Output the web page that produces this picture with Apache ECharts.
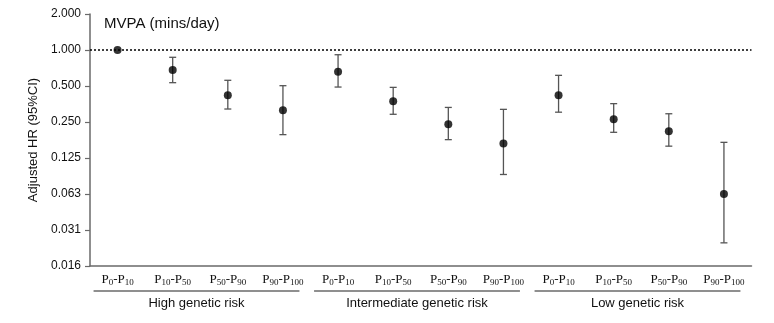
<!DOCTYPE html>
<html>
<head>
<meta charset="utf-8">
<script src="https://cdn.jsdelivr.net/npm/echarts@6/dist/echarts.min.js"></script>
<style>
  html, body { margin: 0; padding: 0; background: #fff; }
  #chart { width: 774px; height: 323px; }
</style>
</head>
<body>
<div id="chart"></div>
<script>
// Percentile bands of MVPA within each genetic-risk group
const categories = [
  'P0-P10', 'P10-P50', 'P50-P90', 'P90-P100',
  'P0-P10', 'P10-P50', 'P50-P90', 'P90-P100',
  'P0-P10', 'P10-P50', 'P50-P90', 'P90-P100'
];
const groups = ['High genetic risk', 'Intermediate genetic risk', 'Low genetic risk'];
const groupSize = 4;

// Adjusted hazard ratios and 95% CI bounds (reference band has no interval)
const hr    = [1.000, 0.680, 0.418, 0.313, 0.659, 0.372, 0.239, 0.165, 0.418, 0.263, 0.209, 0.0625];
const lower = [null,  0.533, 0.321, 0.196, 0.490, 0.290, 0.178, 0.091, 0.302, 0.205, 0.157, 0.0244];
const upper = [null,  0.869, 0.558, 0.503, 0.913, 0.487, 0.331, 0.319, 0.614, 0.356, 0.293, 0.169];

// Tick labels for the log2 axis, from 2^-6 up to 2^1
const yTickLabels = ['0.016', '0.031', '0.063', '0.125', '0.250', '0.500', '1.000', '2.000'];
const referenceHR = 1;

const SANS = 'Arial, "Liberation Sans", Helvetica, sans-serif';
const SERIF = '"Times New Roman", "Liberation Serif", serif';
const AXIS_COLOR = '#6a6a6a';

function percentileLabel(name) {
  const m = name.match(/^P(\d+)-P(\d+)$/);
  return '{p|P}{s|' + m[1] + '}{p|-P}{s|' + m[2] + '}';
}

const ciData = [];
hr.forEach((v, i) => { if (lower[i] != null) ciData.push([i, lower[i], upper[i]]); });

const chart = echarts.init(document.getElementById('chart'), null, { renderer: 'canvas' });

chart.setOption({
  animation: false,
  backgroundColor: '#fff',
  title: {
    text: 'MVPA (mins/day)',
    left: 99, top: 11,
    textStyle: { fontFamily: SANS, fontSize: 15, fontWeight: 'normal', color: '#111' }
  },
  grid: { left: 90, right: 22.5, top: 14, bottom: 57, containLabel: false },
  xAxis: {
    type: 'category',
    data: categories,
    axisLine: { lineStyle: { color: AXIS_COLOR, width: 1.5 } },
    axisTick: { alignWithLabel: true, length: 4, lineStyle: { color: AXIS_COLOR, width: 1.2 } },
    axisLabel: {
      margin: 6,
      interval: 0,
      formatter: (name) => percentileLabel(name),
      rich: {
        p: { fontFamily: SERIF, fontSize: 13, color: '#111' },
        // subscript: top padding pushes the digits below the baseline
        s: { fontFamily: SERIF, fontSize: 9, color: '#111', padding: [6, 0, 0, 0] }
      }
    },
    splitLine: { show: false }
  },
  yAxis: {
    type: 'log',
    logBase: 2,
    min: 1 / 64,
    max: 2,
    interval: 1,
    name: 'Adjusted HR (95%CI)',
    nameLocation: 'middle',
    nameGap: 47,
    nameTextStyle: { fontFamily: SANS, fontSize: 13, color: '#111' },
    axisLine: { show: true, lineStyle: { color: AXIS_COLOR, width: 1.5 } },
    axisTick: { show: true, inside: false, length: 5, lineStyle: { color: AXIS_COLOR, width: 1.2 } },
    axisLabel: {
      margin: 9,
      fontFamily: SANS, fontSize: 12, color: '#111',
      formatter: (v) => yTickLabels[Math.round(Math.log2(v)) + 6]
    },
    splitLine: { show: false }
  },
  series: [
    {
      type: 'custom',
      name: 'CI',
      data: ciData,
      encode: { x: 0, y: [1, 2] },
      z: 2,
      renderItem: (params, api) => {
        const i = api.value(0);
        const lo = api.coord([i, api.value(1)]);
        const hi = api.coord([i, api.value(2)]);
        const cap = 3.5;
        const style = { stroke: '#555', lineWidth: 1.3, fill: null };
        return {
          type: 'group',
          children: [
            { type: 'line', shape: { x1: lo[0], y1: lo[1], x2: hi[0], y2: hi[1] }, style },
            { type: 'line', shape: { x1: lo[0] - cap, y1: lo[1], x2: lo[0] + cap, y2: lo[1] }, style },
            { type: 'line', shape: { x1: hi[0] - cap, y1: hi[1], x2: hi[0] + cap, y2: hi[1] }, style }
          ]
        };
      }
    },
    {
      type: 'scatter',
      name: 'HR',
      data: hr.map((v, i) => [i, v]),
      symbol: 'circle',
      symbolSize: 8,
      itemStyle: { color: '#000' },
      z: 3,
      markLine: {
        silent: true,
        symbol: 'none',
        label: { show: false },
        lineStyle: { color: '#000', type: [2, 2], width: 1.6 },
        data: [{ yAxis: referenceHR }]
      }
    }
  ]
});

// Group brackets and names under the percentile labels
function drawGroups() {
  const lineY = 291;
  const elements = [];
  groups.forEach((g, k) => {
    const first = k * groupSize;
    const last = first + groupSize - 1;
    const x0 = chart.convertToPixel({ xAxisIndex: 0 }, first) - 24;
    const x1 = chart.convertToPixel({ xAxisIndex: 0 }, last) + 16.5;
    elements.push({
      type: 'line',
      shape: { x1: x0, y1: lineY, x2: x1, y2: lineY },
      style: { stroke: AXIS_COLOR, lineWidth: 1.5 }
    });
    elements.push({
      type: 'text',
      x: (x0 + x1) / 2,
      y: lineY + 12,
      style: {
        text: g, fontFamily: SANS, fontSize: 13, fill: '#111',
        align: 'center', verticalAlign: 'middle'
      }
    });
  });
  chart.setOption({ graphic: elements });
}
drawGroups();
</script>
</body>
</html>
